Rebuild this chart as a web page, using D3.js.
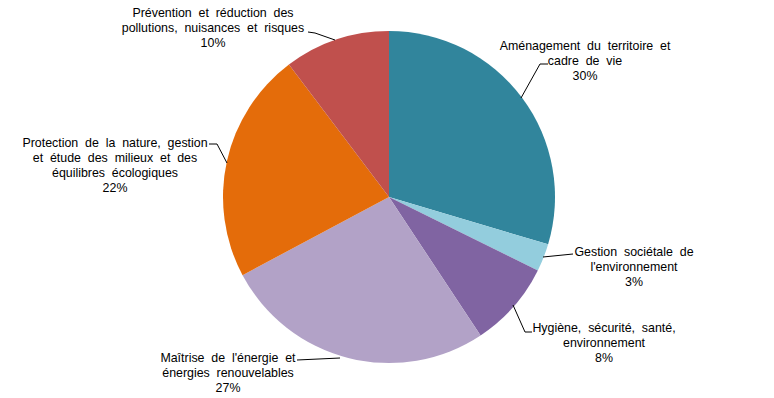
<!DOCTYPE html>
<html><head><meta charset="utf-8">
<script src="https://cdn.jsdelivr.net/npm/d3@7"></script>
<style>body{margin:0;background:#fff}svg{display:block}text{font-family:Arial,"Liberation Sans",sans-serif;font-size:12.4px;fill:#000}</style>
</head><body><svg id="c" width="774" height="398"></svg>
<script>
const categories = ["Aménagement du territoire et cadre de vie","Gestion sociétale de l'environnement","Hygiène, sécurité, santé, environnement","Maîtrise de l'énergie et énergies renouvelables","Protection de la nature, gestion et étude des milieux et des équilibres écologiques","Prévention et réduction des pollutions, nuisances et risques"];
const values = [29.6, 2.7, 8.4, 26.5, 22.5, 10.3];
const pctLabels = ["30%","3%","8%","27%","22%","10%"];
const labelLines = [
  ["Aménagement du territoire et","cadre de vie"],
  ["Gestion sociétale de","l'environnement"],
  ["Hygiène, sécurité, santé,","environnement"],
  ["Maîtrise de l'énergie et","énergies renouvelables"],
  ["Protection de la nature, gestion","et étude des milieux et des","équilibres écologiques"],
  ["Prévention et réduction des","pollutions, nuisances et risques"]
];
const colors = ["#31859C","#93CDDD","#8064A2","#B2A2C7","#E46C0A","#C0504D"];

// layout
const cx = 389, cy = 197, R = 166;
const labelPos = [[585,50],[634,256],[604,332],[228,362],[115,147],[213,17]];
const leaders = [
  [[548,64],[540,64],[521,98]],
  [[573,254],[543,257]],
  [[532,332],[525,332],[513,305]],
  [[297,360],[340,358]],
  [[209,144],[217,144],[227,163]],
  [[308,32],[315,33],[335,40]]
];

const svg = d3.select("#c");
const pie = d3.pie().sort(null).value(d=>d)(values);
const arc = d3.arc().innerRadius(0).outerRadius(R);
const g = svg.append("g").attr("transform",`translate(${cx},${cy})`);
g.selectAll("path").data(pie).join("path").attr("d",arc).attr("fill",(d,i)=>colors[i]);

const line = d3.line();
svg.selectAll("path.lead").data(leaders).join("path").attr("class","lead")
  .attr("d",d=>line(d)).attr("fill","none").attr("stroke","#000").attr("stroke-width",1);

labelLines.forEach((ls,i)=>{
  const t = svg.append("text").attr("text-anchor","middle").attr("x",labelPos[i][0]).attr("y",labelPos[i][1]).style("word-spacing","3.4px");
  ls.concat([pctLabels[i]]).forEach((s,j)=>{
    t.append("tspan").attr("x",labelPos[i][0]).attr("dy",j?15:0).text(s);
  });
});
</script></body></html>
